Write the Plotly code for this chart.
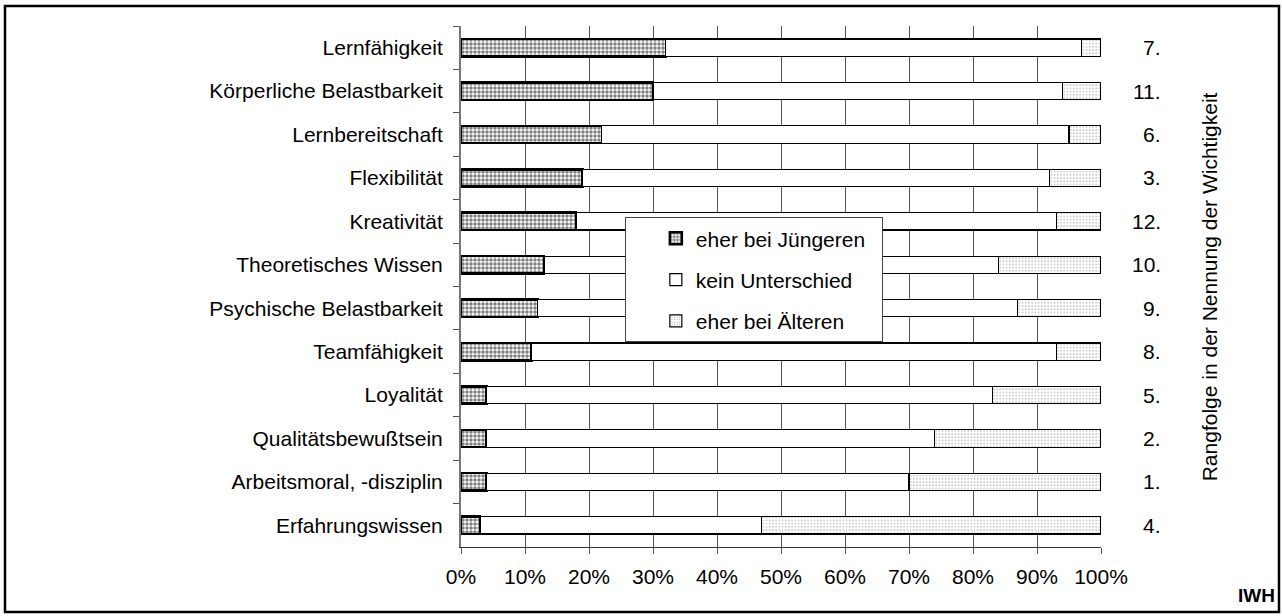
import plotly.graph_objects as go

categories = ["Lernfähigkeit", "Körperliche Belastbarkeit", "Lernbereitschaft", "Flexibilität",
              "Kreativität", "Theoretisches Wissen", "Psychische Belastbarkeit", "Teamfähigkeit",
              "Loyalität", "Qualitätsbewußtsein", "Arbeitsmoral, -disziplin", "Erfahrungswissen"]
juengere = [32, 30, 22, 19, 18, 13, 12, 11, 4, 4, 4, 3]
kein_unterschied = [65, 64, 73, 73, 75, 71, 75, 82, 79, 70, 66, 44]
aeltere = [3, 6, 5, 8, 7, 16, 13, 7, 17, 26, 30, 53]
rang = ["7.", "11.", "6.", "3.", "12.", "10.", "9.", "8.", "5.", "2.", "1.", "4."]
x_ticks = [0, 10, 20, 30, 40, 50, 60, 70, 80, 90, 100]
x_ticktext = [f"{v}%" for v in x_ticks]

FONT = "Liberation Sans, Arial, sans-serif"
FS = 21

fig = go.Figure()
fig.add_trace(go.Bar(
    y=categories, x=juengere, orientation="h", name="eher bei Jüngeren\u00a0\u00a0",
    legendgroup="a",
    marker=dict(color="white", line=dict(color="black", width=2.5),
                pattern=dict(shape=".", fgcolor="black", bgcolor="white", size=4, solidity=0.6)),
))
fig.add_trace(go.Bar(
    y=categories, x=kein_unterschied, orientation="h", name="kein Unterschied",
    legendgroup="b",
    marker=dict(color="white", line=dict(color="black", width=1.2)),
))
fig.add_trace(go.Bar(
    y=categories, x=aeltere, orientation="h", name="eher bei Älteren",
    legendgroup="c",
    marker=dict(color="white", line=dict(color="black", width=1.2),
                pattern=dict(shape=".", fgcolor="black", bgcolor="white", size=3.2, solidity=0.12)),
))

annotations = []
for cat, r in zip(categories, rang):
    annotations.append(dict(x=(1163 - 461) / 640, xref="paper", y=cat, yref="y", text=r, showarrow=False,
                            xanchor="right", yanchor="middle", font=dict(size=FS, color="black")))
annotations.append(dict(x=1.17, xref="paper", y=0.5, yref="paper",
                        text="Rangfolge in der Nennung der Wichtigkeit", textangle=-90,
                        showarrow=False, xanchor="center", yanchor="middle",
                        font=dict(size=FS, color="black")))
annotations.append(dict(x=(1277 - 461) / 640, xref="paper", y=-0.094, yref="paper", text="<b>IWH</b>",
                        showarrow=False, xanchor="right", yanchor="middle",
                        font=dict(size=19, color="black")))

fig.update_layout(
    width=1282, height=616,
    barmode="stack", bargap=0.6,
    paper_bgcolor="white", plot_bgcolor="white",
    font=dict(family=FONT, size=FS, color="black"),
    margin=dict(l=461, r=181, t=26, b=69, autoexpand=False),
    showlegend=True,
    legend=dict(x=0.256, y=0.633, xanchor="left", yanchor="top",
                bgcolor="white", bordercolor="#444", borderwidth=1,
                traceorder="grouped", tracegroupgap=11, indentation=30,
                itemwidth=30,
                font=dict(size=FS, color="black")),
    annotations=annotations,
    shapes=[dict(type="rect", xref="paper", yref="paper",
                 x0=(5 - 461) / 640, x1=(1279 - 461) / 640,
                 y0=(547 - 612) / 521, y1=(547 - 6) / 521,
                 line=dict(color="black", width=2.5), fillcolor="rgba(0,0,0,0)", layer="below")],
)
fig.update_xaxes(range=[0, 100], tickvals=x_ticks, ticktext=x_ticktext,
                 showgrid=True, gridcolor="#555", gridwidth=1,
                 showline=True, linecolor="#333", linewidth=1,
                 ticks="outside", ticklen=6, tickcolor="#555",
                 ticklabelstandoff=5,
                 zeroline=False, tickfont=dict(size=FS))
fig.update_yaxes(autorange="reversed", showgrid=False,
                 showline=True, linecolor="#777", linewidth=2,
                 ticks="outside", tickson="boundaries", ticklen=6, tickcolor="#555",
                 ticklabelstandoff=12, tickfont=dict(size=FS))

fig.write_html("out.html", config={"displayModeBar": False},
               post_script="document.body.style.margin='0';document.body.style.overflow='hidden';")
